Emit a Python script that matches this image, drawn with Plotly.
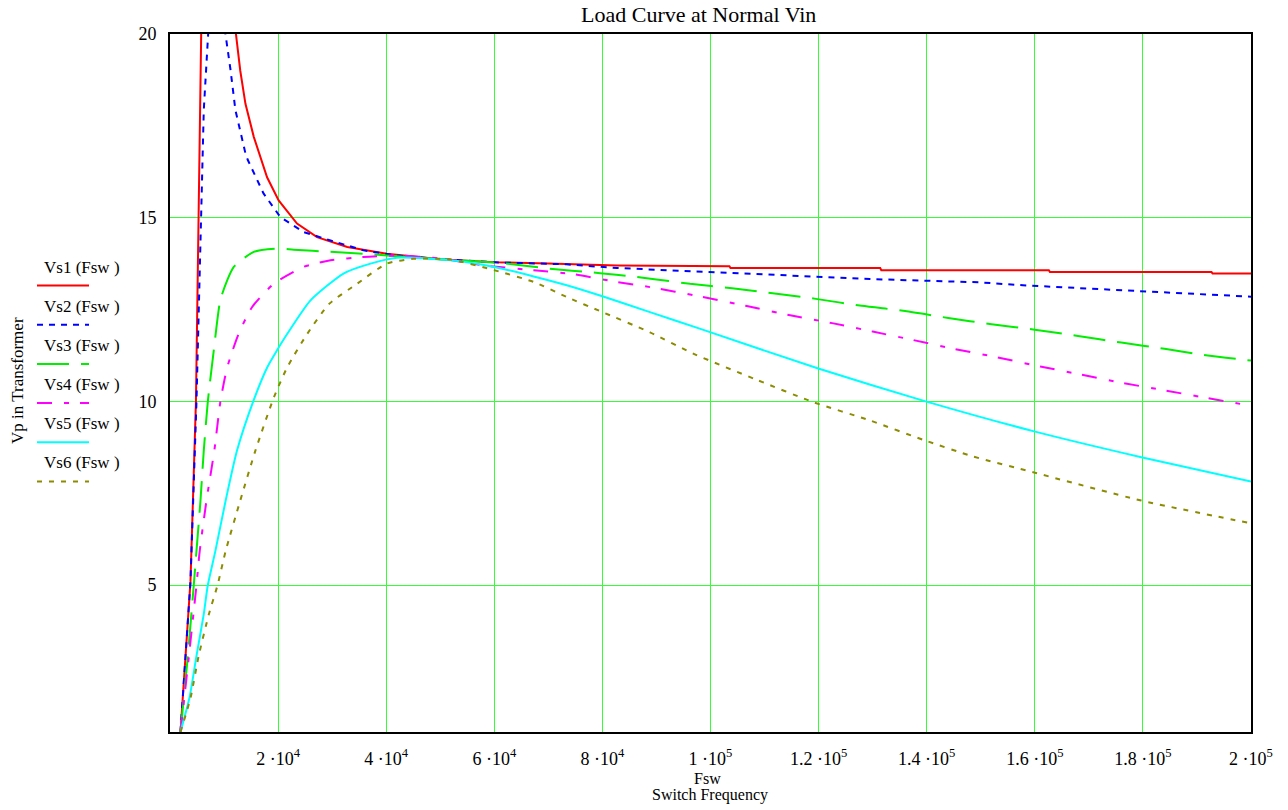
import plotly.graph_objects as go

# ---------------- data ----------------
x_vs1 = [1.94e3, 2.87e3, 3.79e3, 4.8e3, 5.33e3, 5.77e3, 7.0e3, 9.0e3, 12.2e3, 13.0e3, 13.96e3, 15.5e3,
         17.96e3, 20.1e3, 23.5e3, 27.2e3, 32.8e3, 40.1e3, 50e3, 59.9e3, 70e3, 82.7e3, 1.035e5,
         1.037e5, 1.314e5, 1.316e5, 1.626e5, 1.628e5, 1.927e5, 1.929e5, 2e5]
y_vs1 = [1.0, 3.07, 5.1, 10.0, 15.0, 20.0, 45.0, 45.0, 20.0, 19.0, 18.1, 17.2,
         16.1, 15.47, 14.84, 14.47, 14.2, 14.02, 13.87, 13.79, 13.75, 13.70, 13.68,
         13.63, 13.63, 13.57, 13.57, 13.52, 13.52, 13.48, 13.48]

x_vs2 = [1.94e3, 2.87e3, 3.79e3, 4.9e3, 5.82e3, 6.25e3, 7.06e3, 8.5e3, 10.26e3, 11.2e3, 12.1e3,
         13.96e3, 14.4e3, 17.3e3, 20.4e3, 24.7e3, 29.7e3, 35.8e3, 42e3, 50e3, 61.1e3, 73.4e3,
         82.7e3, 96.4e3, 1.14e5, 1.295e5, 1.498e5, 1.578e5, 1.788e5, 2e5]
y_vs2 = [1.0, 3.07, 5.1, 10.0, 15.0, 17.93, 20.0, 30.0, 20.0, 19.02, 17.93,
         16.75, 16.57, 15.66, 15.02, 14.61, 14.38, 14.11, 13.97, 13.87, 13.78, 13.73,
         13.63, 13.55, 13.43, 13.33, 13.24, 13.16, 13.0, 12.85]

x_vs3 = [1.94e3, 3.3e3, 4.4e3, 4.9e3, 5.64e3, 6.25e3, 7.0e3, 8.1e3, 9.3e3, 10.6e3, 11.8e3,
         15.5e3, 19.8e3, 22.9e3, 29.7e3, 35.8e3, 40.1e3, 50e3, 61.1e3, 70.3e3, 79.6e3, 85.7e3,
         90e3, 96.2e3, 1.04e5, 1.115e5, 1.195e5, 1.28e5, 1.36e5, 1.44e5, 1.52e5, 1.60e5,
         1.68e5, 1.76e5, 1.84e5, 1.92e5, 2e5]
y_vs3 = [1.0, 3.07, 5.0, 5.93, 7.3, 8.66, 10.0, 11.39, 12.75, 13.3, 13.66,
         14.07, 14.16, 14.13, 14.07, 14.02, 13.97, 13.87, 13.77, 13.61, 13.49, 13.4,
         13.32, 13.2, 13.08, 12.94, 12.79, 12.6, 12.46, 12.27, 12.1, 11.95,
         11.78, 11.6, 11.43, 11.25, 11.11]

x_vs4 = [1.94e3, 3.5e3, 4.9e3, 5.5e3, 6.75e3, 8.2e3, 9.33e3, 10.6e3, 12.7e3, 15.2e3, 19.2e3,
         24.7e3, 29.7e3, 35.8e3, 42e3, 50e3, 58.1e3, 67.3e3, 74.7e3, 82.7e3, 88.8e3, 98e3,
         1.065e5, 1.145e5, 1.225e5, 1.30e5, 1.375e5, 1.45e5, 1.53e5, 1.61e5, 1.685e5,
         1.763e5, 1.84e5, 1.915e5, 2e5]
y_vs4 = [1.0, 3.07, 5.0, 5.93, 7.3, 8.66, 10.0, 10.93, 11.84, 12.57, 13.2,
         13.66, 13.84, 13.93, 13.97, 13.89, 13.70, 13.57, 13.46, 13.25, 13.11, 12.86,
         12.6, 12.35, 12.13, 11.9, 11.67, 11.43, 11.2, 10.95, 10.73,
         10.5, 10.3, 10.1, 9.88]

x_vs5 = [1.94e3, 3.6e3, 4.9e3, 6.25e3, 7.0e3, 8.4e3, 10.3e3, 12.4e3, 15.4e3, 18e3, 19.8e3,
         21.7e3, 26e3, 32.1e3, 37.1e3, 42e3, 50e3, 55e3, 60e3, 67.3e3, 73.4e3, 80e3,
         88.8e3, 98e3, 1.198e5, 1.398e5, 1.597e5, 1.797e5, 2e5]
y_vs5 = [1.0, 1.93, 3.07, 4.21, 5.0, 5.93, 7.3, 8.66, 10.0, 10.93, 11.39,
         11.84, 12.75, 13.48, 13.75, 13.91, 13.86, 13.79, 13.66, 13.4, 13.16, 12.86,
         12.43, 11.98, 10.9, 10.0, 9.19, 8.48, 7.82]

x_vs6 = [1.94e3, 3.8e3, 5.3e3, 7.2e3, 8.8e3, 10.3e3, 13e3, 15.8e3, 19.2e3, 21.7e3, 25.4e3,
         29.5e3, 34.6e3, 40.1e3, 45e3, 51.9e3, 60e3, 67.3e3, 73.4e3, 80e3, 88.8e3, 96.8e3,
         1.085e5, 1.19e5, 1.295e5, 1.398e5, 1.486e5, 1.597e5, 1.797e5, 2e5]
y_vs6 = [1.0, 1.93, 3.07, 4.21, 5.0, 5.93, 7.3, 8.66, 10.1, 10.93, 11.84,
         12.66, 13.2, 13.75, 13.88, 13.86, 13.57, 13.25, 12.84, 12.43, 11.88, 11.3,
         10.59, 9.98, 9.48, 8.93, 8.5, 8.07, 7.3, 6.68]

series_names = ["Vs1 (Fsw )", "Vs2 (Fsw )", "Vs3 (Fsw )", "Vs4 (Fsw )", "Vs5 (Fsw )", "Vs6 (Fsw )"]
x_tick_vals = [2e4, 4e4, 6e4, 8e4, 1e5, 1.2e5, 1.4e5, 1.6e5, 1.8e5, 2e5]
x_tick_text = ["2 ·10<sup>4</sup>", "4 ·10<sup>4</sup>", "6 ·10<sup>4</sup>", "8 ·10<sup>4</sup>",
               "1 ·10<sup>5</sup>", "1.2 ·10<sup>5</sup>", "1.4 ·10<sup>5</sup>",
               "1.6 ·10<sup>5</sup>", "1.8 ·10<sup>5</sup>", "2 ·10<sup>5</sup>"]
y_tick_vals = [5, 10, 15, 20]

# ---------------- styles ----------------
colors = ["#FF0000", "#0000FF", "#00EE00", "#FF00FF", "#00FFFF", "#8C8C00"]
dashes = ["solid", "6px,6px", "32px,12px", "15px,12px,5px,11px", "solid", "5px,7px"]
shapes_mode = ["linear", "linear", "spline", "spline", "spline", "spline"]
FONT = "Liberation Serif, Times New Roman, serif"

# page offset of the plot div (browser body margin)
OFF = 8
PAGE_W, PAGE_H = 1288, 810
W, H = PAGE_W - OFF, PAGE_H - OFF
PL, PR, PT, PB = 170, 1251, 34, 732          # plot area in page pixels
ML, MT = PL - OFF, PT - OFF
MR = PAGE_W - PR
MB = PAGE_H - PB
PW, PH = PR - PL, PB - PT


def px(xp):
    return (xp - PL) / PW


def py(yp):
    return (PB - yp) / PH


fig = go.Figure()
xs = [x_vs1, x_vs2, x_vs3, x_vs4, x_vs5, x_vs6]
ys = [y_vs1, y_vs2, y_vs3, y_vs4, y_vs5, y_vs6]
for i in range(6):
    fig.add_trace(go.Scatter(x=xs[i], y=ys[i], mode="lines", name=series_names[i],
                             line=dict(color=colors[i], width=2, dash=dashes[i],
                                       shape=shapes_mode[i], smoothing=0.6),
                             showlegend=False))

annotations = []
shapes = []
for i, nm in enumerate(series_names):
    ty = 267 + 39 * i
    ly = 285.5 + 39.2 * i
    annotations.append(dict(text=nm, xref="paper", yref="paper", x=px(42), y=py(ty),
                            xanchor="left", yanchor="middle", showarrow=False,
                            font=dict(family=FONT, size=17, color="black")))
    shapes.append(dict(type="line", xref="paper", yref="paper", x0=px(37), x1=px(89),
                       y0=py(ly), y1=py(ly),
                       line=dict(color=colors[i], width=2, dash=dashes[i])))

annotations.append(dict(text="Fsw", xref="paper", yref="paper", x=px(707), y=py(778),
                        xanchor="center", yanchor="middle", showarrow=False,
                        font=dict(family=FONT, size=16, color="black")))
annotations.append(dict(text="Switch Frequency", xref="paper", yref="paper", x=px(710), y=py(795),
                        xanchor="center", yanchor="middle", showarrow=False,
                        font=dict(family=FONT, size=16, color="black")))
annotations.append(dict(text="Vp in Transformer", xref="paper", yref="paper", x=px(17), y=py(381),
                        xanchor="center", yanchor="middle", showarrow=False, textangle=-90,
                        font=dict(family=FONT, size=17, color="black")))
annotations.append(dict(text="Load Curve at Normal Vin", xref="paper", yref="paper", x=px(698), y=py(14),
                        xanchor="center", yanchor="middle", showarrow=False,
                        font=dict(family=FONT, size=22, color="black")))

fig.update_layout(
    width=W, height=H,
    margin=dict(l=ML, r=MR, t=MT, b=MB, pad=0),
    paper_bgcolor="white", plot_bgcolor="white",
    annotations=annotations, shapes=shapes,
    showlegend=False,
    font=dict(family=FONT, size=18, color="black"),
)
fig.update_xaxes(range=[0, 2e5], tickvals=x_tick_vals, ticktext=x_tick_text,
                 showgrid=True, gridcolor="#33FF33", gridwidth=1,
                 showline=True, linecolor="black", linewidth=2, mirror=True,
                 ticks="", ticklabelstandoff=9, zeroline=False,
                 tickfont=dict(family=FONT, size=18, color="black"))
fig.update_yaxes(range=[1, 20], tickvals=y_tick_vals,
                 showgrid=True, gridcolor="#33FF33", gridwidth=1,
                 showline=True, linecolor="black", linewidth=2, mirror=True,
                 ticks="", ticklabelstandoff=8, zeroline=False,
                 tickfont=dict(family=FONT, size=18, color="black"))

fig.write_html("out.html")
